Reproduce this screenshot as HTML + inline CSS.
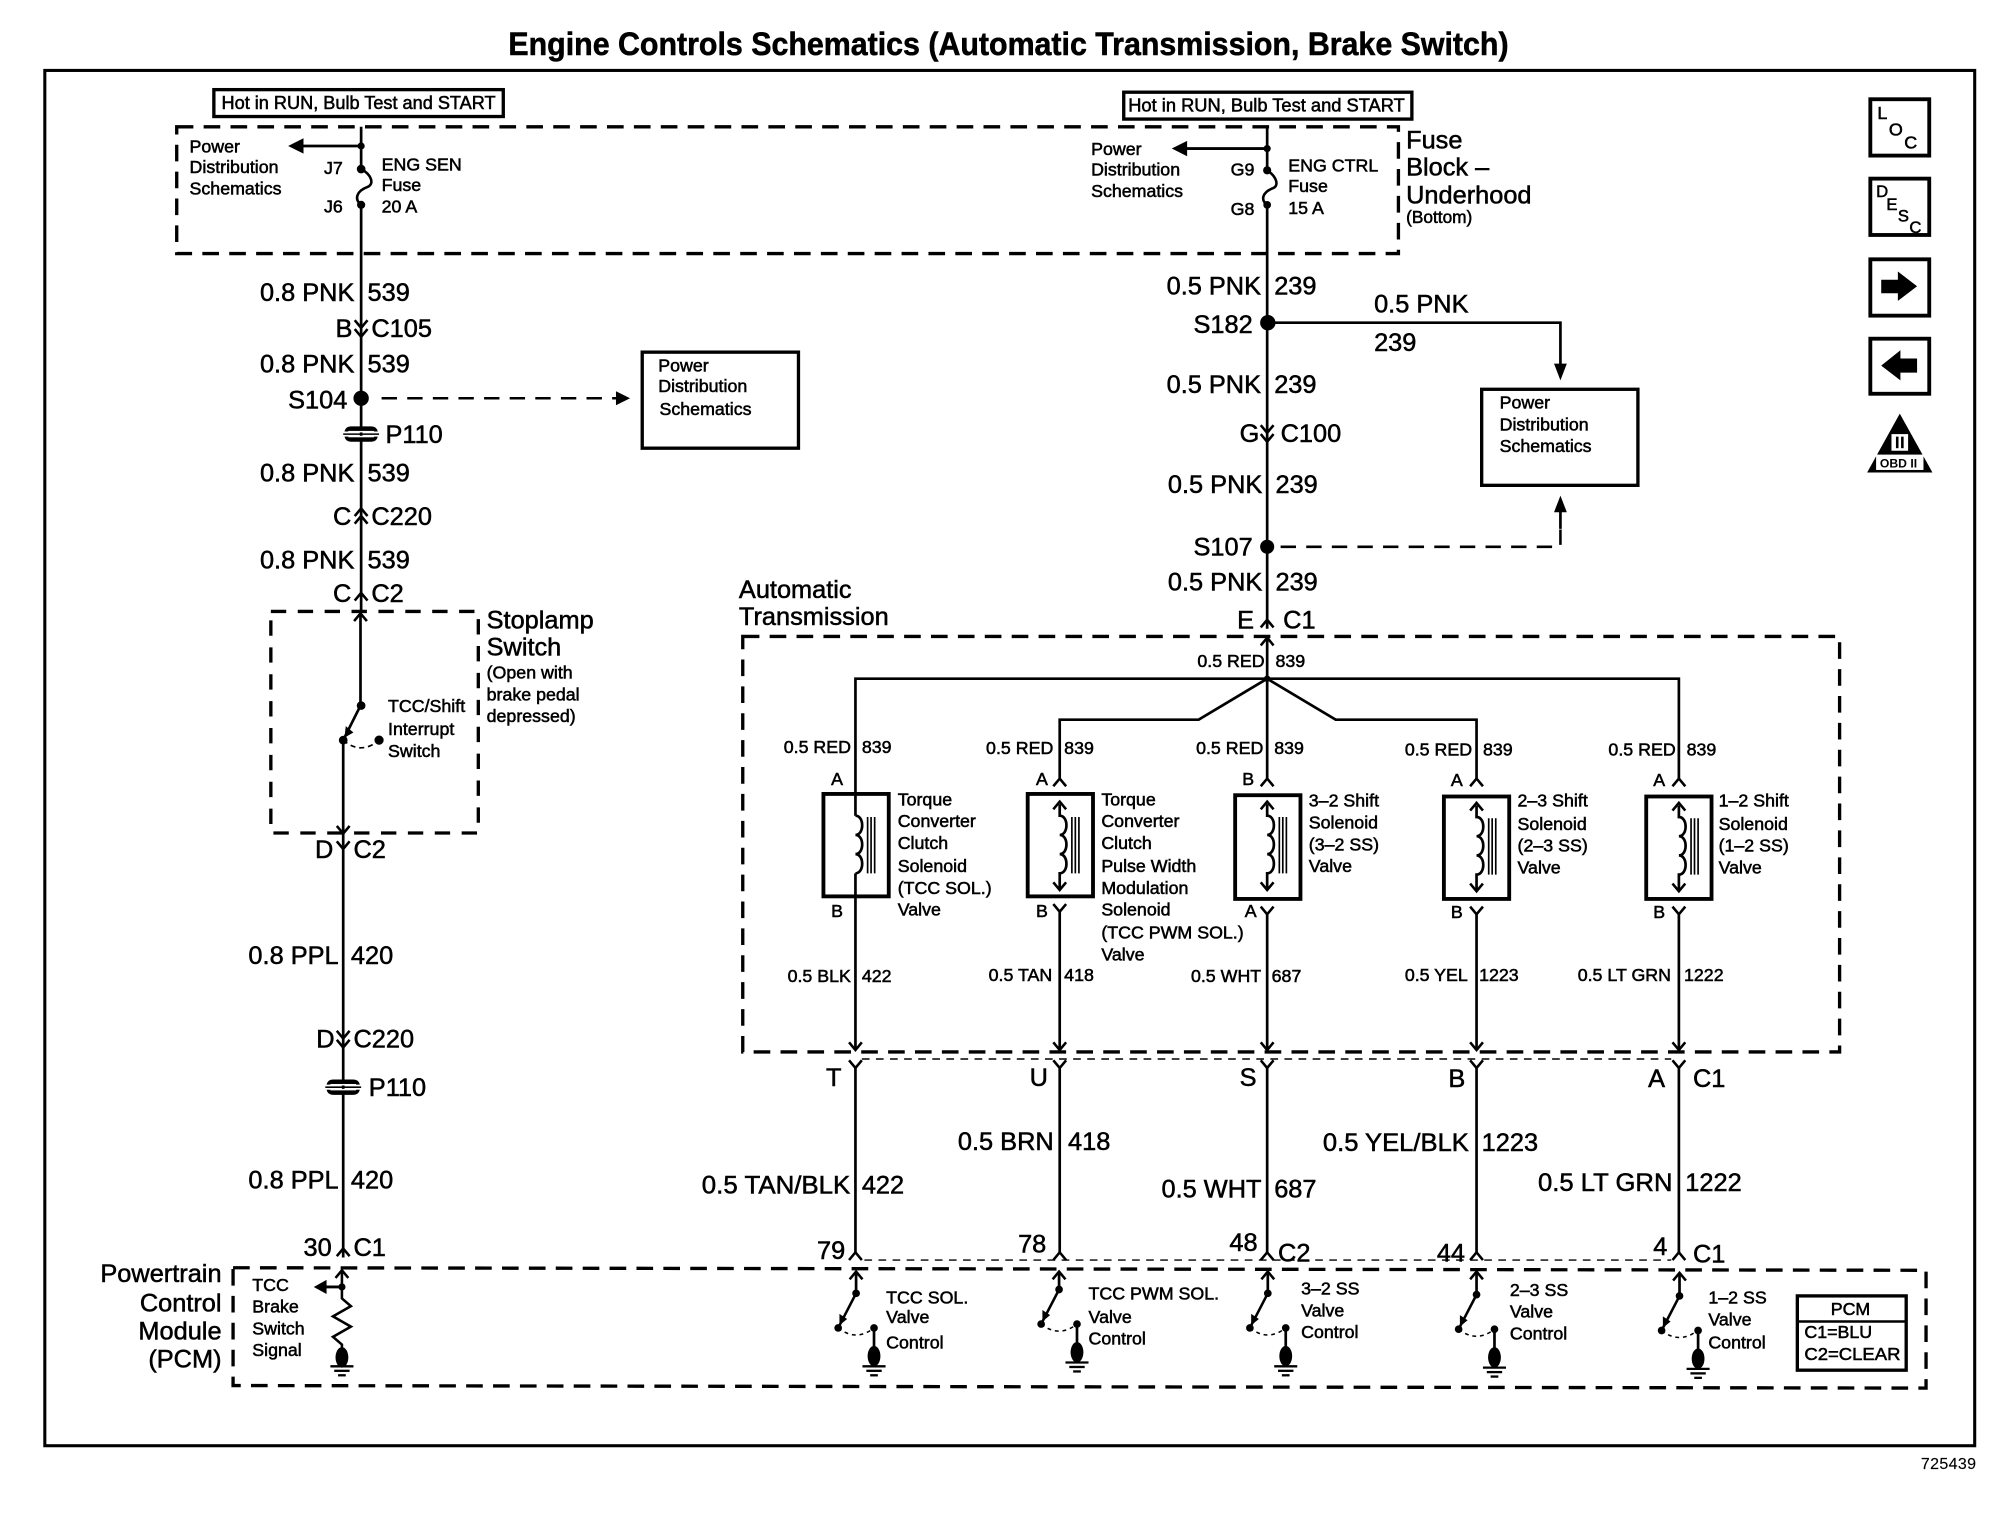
<!DOCTYPE html>
<html><head><meta charset="utf-8"><title>Engine Controls Schematics</title>
<style>
html,body{margin:0;padding:0;background:#fff}
svg{display:block;width:2008px;height:1520px}
text{font-family:"Liberation Sans",sans-serif;fill:#000;stroke:#000;stroke-width:.42}
.b{font-size:19.8px}.s{font-size:13.9px}
.w{fill:none;stroke:#000;stroke-width:2.1}
.d{fill:none;stroke:#000;stroke-width:2.6;stroke-dasharray:13 8}
.t{fill:none;stroke:#000;stroke-width:1.1;stroke-dasharray:6 5}
.r{fill:none;stroke:#000;stroke-width:2.6}
</style></head><body>
<svg xmlns="http://www.w3.org/2000/svg" viewBox="0 0 1568 1187" preserveAspectRatio="none">
<defs>
<path id="dn" d="M-5,-6 L0,0 L5,-6" fill="none" stroke="#000" stroke-width="2"/>
<path id="up" d="M-5,6 L0,0 L5,6" fill="none" stroke="#000" stroke-width="2"/>
<g id="p110"><path d="M-13,-2 Q-12,-6 -8,-6 H8 Q12,-6 13,-2 Z M-13,2 Q-12,6 -8,6 H8 Q12,6 13,2 Z" fill="#000"/><rect x="-10" y="-2.5" width="20" height="1.2" fill="#fff"/><rect x="-10" y="1.3" width="20" height="1.2" fill="#fff"/><path d="M-14,0H14" stroke="#000" stroke-width="1.2"/></g>
<g id="coil"><path d="M0,628 V637 c7,0 7,15 0,15 c7,0 7,15 0,15 c7,0 7,15 0,15 V694" class="w"/><path d="M9.5,638 V682 M12.2,638 V682 M15,638 V682" stroke="#000" stroke-width="1.3" fill="none"/><use href="#up" y="626"/><path d="M-5,689 L0,695 L5,689" fill="none" stroke="#000" stroke-width="2"/></g>
<g id="gnd"><path d="M0,0 V22" class="w"/><ellipse cx="0" cy="22" rx="5" ry="8" fill="#000"/><circle cx="0" cy="0" r="3"/><path d="M-9,30 H9" stroke="#000" stroke-width="1.8"/><path d="M-6,33.5 H6" stroke="#000" stroke-width="1.8"/><path d="M-3,37 H3" stroke="#000" stroke-width="1.8"/></g>
<g id="sw"><circle cx="0" cy="0" r="3"/><path d="M0,0 L-14,27" stroke="#000" stroke-width="2"/><path d="M-13,16 L-13,25 L-7,20 Z"/><circle cx="-14" cy="27" r="3"/><path d="M-14,27 Q0,38 14,27" fill="none" stroke="#000" stroke-width="1.2" stroke-dasharray="3 3"/></g>
</defs>
<rect width="1568" height="1187" fill="#fff"/>

<text x="397" y="43" font-size="25" font-weight="bold" textLength="781" lengthAdjust="spacingAndGlyphs">Engine Controls Schematics (Automatic Transmission, Brake Switch)</text>
<rect x="35" y="55" width="1507" height="1074" class="r" style="stroke-width:2.4"/>
<text x="1500" y="1147" font-size="12.5" style="stroke-width:.1" textLength="43">725439</text>

<rect x="167" y="70" width="226" height="21" class="r"/>
<text x="173" y="85" font-size="14.6" textLength="214" lengthAdjust="spacingAndGlyphs">Hot in RUN, Bulb Test and START</text>
<rect x="877.5" y="72" width="225" height="21" class="r"/>
<text x="881" y="87" font-size="14.6" textLength="216" lengthAdjust="spacingAndGlyphs">Hot in RUN, Bulb Test and START</text>

<path d="M138,99 H1092 V198 H138 Z" class="d"/>

<!-- left fuse -->
<path d="M282,99 V132 M282,160 V478" class="w"/>
<path d="M282,132 C291,137 292,144 287,146 C279,149 276,155 282,160" fill="none" stroke="#000" stroke-width="2"/>
<circle cx="282" cy="114" r="2.8"/><circle cx="282" cy="132" r="3.4"/><circle cx="282" cy="160" r="3.2"/>
<path d="M282,114 H236" stroke="#000" stroke-width="2.2"/><path d="M225,114 L237,108 V120 Z"/>
<text class="s" x="148" y="119">Power</text><text class="s" x="148" y="135">Distribution</text><text class="s" x="148" y="152">Schematics</text>
<text class="s" x="253" y="136">J7</text><text class="s" x="253" y="166">J6</text>
<text class="s" x="298" y="133">ENG SEN</text><text class="s" x="298" y="149">Fuse</text><text class="s" x="298" y="166">20 A</text>

<text class="b" x="203" y="235">0.8 PNK</text><text class="b" x="287" y="235">539</text>
<text class="b" x="262" y="263">B</text><text class="b" x="290" y="263">C105</text>
<use href="#dn" x="282" y="256"/><use href="#dn" x="282" y="263"/>
<text class="b" x="203" y="291">0.8 PNK</text><text class="b" x="287" y="291">539</text>
<text class="b" x="225" y="319">S104</text>
<circle cx="282" cy="311" r="6"/>
<path d="M298,311 H482" fill="none" stroke="#000" stroke-width="2" stroke-dasharray="12 8"/>
<path d="M492,311 L481,305.5 V316.5 Z"/>
<use href="#p110" x="282" y="339"/>
<text class="b" x="301" y="346">P110</text>
<rect x="501.5" y="275" width="122" height="75" class="r"/>
<text class="s" x="514" y="290">Power</text><text class="s" x="514" y="306">Distribution</text><text class="s" x="515" y="324">Schematics</text>
<text class="b" x="203" y="376">0.8 PNK</text><text class="b" x="287" y="376">539</text>
<text class="b" x="260" y="410">C</text><text class="b" x="290" y="410">C220</text>
<use href="#up" x="282" y="397"/><use href="#up" x="282" y="403"/>
<text class="b" x="203" y="444">0.8 PNK</text><text class="b" x="287" y="444">539</text>
<text class="b" x="260" y="470">C</text><text class="b" x="290" y="470">C2</text>
<use href="#up" x="282" y="463"/>

<!-- stoplamp -->
<path d="M211.5,477.5 H373.5 V650.5 H211.5 Z" class="d" style="stroke-dasharray:12 9"/>
<use href="#up" x="281.5" y="479"/>
<path d="M281.5,479 V551 L268,578 V660" class="w"/>
<circle cx="282" cy="551" r="3.4"/><circle cx="268" cy="578" r="3.4"/><circle cx="296" cy="578" r="3.6"/>
<path d="M268,578 Q282,590 296,578" fill="none" stroke="#000" stroke-width="1.3" stroke-dasharray="4 3"/>
<path d="M270,567 L269,576 L276,572 Z"/>
<use href="#dn" x="268" y="651"/>
<use href="#dn" x="268" y="663"/>
<text class="s" x="303" y="556">TCC/Shift</text><text class="s" x="303" y="574">Interrupt</text><text class="s" x="303" y="591">Switch</text>
<text class="b" x="380" y="491">Stoplamp</text><text class="b" x="380" y="512">Switch</text>
<text class="s" x="380" y="530">(Open with</text><text class="s" x="380" y="547">brake pedal</text><text class="s" x="380" y="564">depressed)</text>
<text class="b" x="246" y="670">D</text><text class="b" x="276" y="670">C2</text>

<path d="M268,660 V982" class="w"/>
<text class="b" x="194" y="753">0.8 PPL</text><text class="b" x="274" y="753">420</text>
<text class="b" x="247" y="818">D</text><text class="b" x="276" y="818">C220</text>
<use href="#dn" x="268" y="811"/><use href="#dn" x="268" y="818"/>
<use href="#p110" x="268" y="849"/>
<text class="b" x="288" y="856">P110</text>
<text class="b" x="194" y="928">0.8 PPL</text><text class="b" x="274" y="928">420</text>
<text class="b" x="237" y="981">30</text><text class="b" x="276" y="981">C1</text>
<use href="#up" x="268" y="975"/>

<!-- right main wire -->
<path d="M989.5,99 V133 M989.5,160 V491" class="w"/>
<path d="M989.5,133 C997,138 999,145 994,147 C986,150 984,156 989.5,160" fill="none" stroke="#000" stroke-width="2"/>
<circle cx="989.5" cy="116" r="2.8"/><circle cx="989.5" cy="133" r="3.2"/><circle cx="989.5" cy="160" r="3"/>
<path d="M989.5,116 H926" stroke="#000" stroke-width="2.2"/><path d="M915,116 L927,110 V122 Z"/>
<text class="s" x="852" y="121">Power</text><text class="s" x="852" y="137">Distribution</text><text class="s" x="852" y="154">Schematics</text>
<text class="s" x="961" y="137">G9</text><text class="s" x="961" y="168">G8</text>
<text class="s" x="1006" y="134">ENG CTRL</text><text class="s" x="1006" y="150">Fuse</text><text class="s" x="1006" y="167">15 A</text>
<text class="b" x="1098" y="116">Fuse</text><text class="b" x="1098" y="137">Block –</text><text class="b" x="1098" y="159">Underhood</text>
<text x="1098" y="174" font-size="13.5">(Bottom)</text>

<text class="b" x="911" y="230">0.5 PNK</text><text class="b" x="995" y="230">239</text>
<text class="b" x="932" y="260">S182</text>
<circle cx="990" cy="252" r="6"/>
<path d="M990,252 H1218.5 V286" class="w"/><path d="M1218.5,297 L1213.5,284 H1223.5 Z"/>
<text class="b" x="1073" y="244">0.5 PNK</text><text class="b" x="1073" y="274">239</text>
<rect x="1157" y="304" width="122" height="75" class="r"/>
<text class="s" x="1171" y="319">Power</text><text class="s" x="1171" y="336">Distribution</text><text class="s" x="1171" y="353">Schematics</text>
<text class="b" x="911" y="307">0.5 PNK</text><text class="b" x="995" y="307">239</text>
<text class="b" x="968" y="345">G</text><text class="b" x="1000" y="345">C100</text>
<use href="#dn" x="989.5" y="338"/><use href="#dn" x="989.5" y="345"/>
<text class="b" x="912" y="385">0.5 PNK</text><text class="b" x="996" y="385">239</text>
<text class="b" x="932" y="434">S107</text>
<circle cx="989.5" cy="427" r="5.5"/>
<path d="M1000,427 H1218.5 V412" fill="none" stroke="#000" stroke-width="2" stroke-dasharray="12 8"/>
<path d="M1218.5,413 V398" class="w"/><path d="M1218.5,387 L1213.5,400 H1223.5 Z"/>
<text class="b" x="912" y="461">0.5 PNK</text><text class="b" x="996" y="461">239</text>
<text class="b" x="966" y="491">E</text><text class="b" x="1002" y="491">C1</text>
<use href="#up" x="989.5" y="484"/>

<!-- transmission -->
<text class="b" x="577" y="467">Automatic</text><text class="b" x="577" y="488">Transmission</text>
<path d="M580,497 H1436.5 V821.5 H580 Z" class="d"/>
<path d="M989.5,498 V608" class="w"/>
<use href="#up" x="989.5" y="498"/>
<circle cx="989.5" cy="530" r="2.5"/>
<text class="s" x="935" y="521">0.5 RED</text><text class="s" x="996" y="521">839</text>
<path d="M668,637 V530 H1311 V608 M668,682 V820" class="w"/>
<path d="M989.5,530 L936,562 H827.5 V608 M989.5,530 L1043,562 H1153 V608" class="w"/>

<text class="s" x="612" y="588">0.5 RED</text><text class="s" x="673" y="588">839</text>
<text class="s" x="770" y="589">0.5 RED</text><text class="s" x="831" y="589">839</text>
<text class="s" x="934" y="589">0.5 RED</text><text class="s" x="995" y="589">839</text>
<text class="s" x="1097" y="590">0.5 RED</text><text class="s" x="1158" y="590">839</text>
<text class="s" x="1256" y="590">0.5 RED</text><text class="s" x="1317" y="590">839</text>

<!-- solenoids -->
<rect x="643" y="620" width="51" height="80" class="r" style="stroke-width:3"/>
<path d="M668,637 c7,0 7,15 0,15 c7,0 7,15 0,15 c7,0 7,15 0,15" class="w"/>
<path d="M677.5,638 V682 M680.2,638 V682 M683,638 V682" stroke="#000" stroke-width="1.3" fill="none"/>
<rect x="802.5" y="620" width="51" height="80" class="r" style="stroke-width:3"/>
<use href="#coil" x="827.5"/>
<rect x="964.5" y="621" width="51" height="81" class="r" style="stroke-width:3"/>
<use href="#coil" x="989.5"/>
<rect x="1127.5" y="622" width="51" height="80" class="r" style="stroke-width:3"/>
<use href="#coil" x="1153" y="1"/>
<rect x="1285.5" y="622" width="51" height="80" class="r" style="stroke-width:3"/>
<use href="#coil" x="1311" y="1"/>

<use href="#up" x="827.5" y="608"/><use href="#up" x="989.5" y="608"/><use href="#up" x="1153" y="608"/><use href="#up" x="1311" y="608"/>
<use href="#dn" x="827.5" y="712"/><use href="#dn" x="989.5" y="714"/><use href="#dn" x="1153" y="714"/><use href="#dn" x="1311" y="714"/>
<path d="M827.5,712 V820 M989.5,714 V820 M1153,714 V820 M1311,714 V820" class="w"/>

<text class="s" x="649" y="613">A</text><text class="s" x="809" y="613">A</text><text class="s" x="970" y="613">B</text><text class="s" x="1133" y="614">A</text><text class="s" x="1291" y="614">A</text>
<text class="s" x="649" y="716">B</text><text class="s" x="809" y="716">B</text><text class="s" x="972" y="716">A</text><text class="s" x="1133" y="717">B</text><text class="s" x="1291" y="717">B</text>

<g class="s">
<text x="701" y="629">Torque</text><text x="701" y="646">Converter</text><text x="701" y="663">Clutch</text><text x="701" y="681">Solenoid</text><text x="701" y="698">(TCC SOL.)</text><text x="701" y="715">Valve</text>
<text x="860" y="629">Torque</text><text x="860" y="646">Converter</text><text x="860" y="663">Clutch</text><text x="860" y="681">Pulse Width</text><text x="860" y="698">Modulation</text><text x="860" y="715">Solenoid</text><text x="860" y="733">(TCC PWM SOL.)</text><text x="860" y="750">Valve</text>
<text x="1022" y="630">3–2 Shift</text><text x="1022" y="647">Solenoid</text><text x="1022" y="664">(3–2 SS)</text><text x="1022" y="681">Valve</text>
<text x="1185" y="630">2–3 Shift</text><text x="1185" y="648">Solenoid</text><text x="1185" y="665">(2–3 SS)</text><text x="1185" y="682">Valve</text>
<text x="1342" y="630">1–2 Shift</text><text x="1342" y="648">Solenoid</text><text x="1342" y="665">(1–2 SS)</text><text x="1342" y="682">Valve</text>
</g>

<g class="s">
<text x="615" y="767">0.5 BLK</text><text x="673" y="767">422</text>
<text x="772" y="766">0.5 TAN</text><text x="831" y="766">418</text>
<text x="930" y="767">0.5 WHT</text><text x="993" y="767">687</text>
<text x="1097" y="766">0.5 YEL</text><text x="1155" y="766">1223</text>
<text x="1232" y="766">0.5 LT GRN</text><text x="1315" y="766">1222</text>
</g>

<use href="#dn" x="668" y="820"/><use href="#dn" x="827.5" y="820"/><use href="#dn" x="989.5" y="820"/><use href="#dn" x="1153" y="820"/><use href="#dn" x="1311" y="820"/>

<!-- between -->
<path d="M673,827 H1305" class="t"/>
<use href="#dn" x="668" y="834"/><use href="#dn" x="827.5" y="834"/><use href="#dn" x="989.5" y="834"/><use href="#dn" x="1153" y="834"/><use href="#dn" x="1311" y="834"/>
<path d="M668,834 V978 M827.5,834 V978 M989.5,834 V978 M1153,834 V978 M1311,834 V978" class="w"/>
<use href="#up" x="668" y="978"/><use href="#up" x="827.5" y="978"/><use href="#up" x="989.5" y="978"/><use href="#up" x="1153" y="978"/><use href="#up" x="1311" y="978"/>
<path d="M675,984 H1305" class="t"/>

<text class="b" x="645" y="848">T</text><text class="b" x="804" y="848">U</text><text class="b" x="968" y="848">S</text><text class="b" x="1131" y="849">B</text><text class="b" x="1287" y="849">A</text><text class="b" x="1322" y="849">C1</text>
<text class="b" x="748" y="898">0.5 BRN</text><text class="b" x="834" y="898">418</text>
<text class="b" x="548" y="932" textLength="116" lengthAdjust="spacingAndGlyphs">0.5 TAN/BLK</text><text class="b" x="673" y="932">422</text>
<text class="b" x="907" y="935">0.5 WHT</text><text class="b" x="995" y="935">687</text>
<text class="b" x="1033" y="899" textLength="114" lengthAdjust="spacingAndGlyphs">0.5 YEL/BLK</text><text class="b" x="1157" y="899">1223</text>
<text class="b" x="1201" y="930" textLength="105" lengthAdjust="spacingAndGlyphs">0.5 LT GRN</text><text class="b" x="1316" y="930">1222</text>
<text class="b" x="638" y="983">79</text><text class="b" x="795" y="978">78</text><text class="b" x="960" y="977">48</text><text class="b" x="998" y="985">C2</text><text class="b" x="1122" y="985">44</text><text class="b" x="1291" y="980">4</text><text class="b" x="1322" y="986">C1</text>

<!-- PCM -->
<path d="M182,990 L1504,992 V1084 L182,1082 Z" class="d"/>
<text class="b" x="173" y="1001" text-anchor="end">Powertrain</text><text class="b" x="173" y="1024" text-anchor="end">Control</text><text class="b" x="173" y="1046" text-anchor="end">Module</text><text class="b" x="173" y="1068" text-anchor="end">(PCM)</text>
<text class="s" x="197" y="1008">TCC</text><text class="s" x="197" y="1025">Brake</text><text class="s" x="197" y="1042">Switch</text><text class="s" x="197" y="1059">Signal</text>

<use href="#up" x="267" y="992"/>
<path d="M267,992 V1014 L274,1020 L260,1028 L274,1036 L260,1044 L267,1050 V1060" fill="none" stroke="#000" stroke-width="2"/>
<circle cx="267" cy="1005" r="2.8"/>
<path d="M267,1005 H254" stroke="#000" stroke-width="2.2"/><path d="M245,1005 L255,999.5 V1010.5 Z"/>
<ellipse cx="267" cy="1060" rx="5" ry="8"/>
<path d="M258,1067 H276" stroke="#000" stroke-width="1.8"/><path d="M261,1070.5 H273" stroke="#000" stroke-width="1.8"/><path d="M264,1074 H270" stroke="#000" stroke-width="1.8"/>

<use href="#up" x="668.5" y="993"/><path d="M668.5,993 V1010" class="w"/><use href="#sw" x="668.5" y="1010"/><use href="#gnd" x="682.5" y="1037"/>
<use href="#up" x="827" y="993"/><path d="M827,993 V1007" class="w"/><use href="#sw" x="827" y="1007"/><use href="#gnd" x="841" y="1034"/>
<use href="#up" x="990" y="993"/><path d="M990,993 V1010" class="w"/><use href="#sw" x="990" y="1010"/><use href="#gnd" x="1004" y="1037"/>
<use href="#up" x="1153" y="993"/><path d="M1153,993 V1011" class="w"/><use href="#sw" x="1153" y="1011"/><use href="#gnd" x="1167" y="1038"/>
<use href="#up" x="1311.5" y="994"/><path d="M1311.5,994 V1012" class="w"/><use href="#sw" x="1311.5" y="1012"/><use href="#gnd" x="1326" y="1039"/>

<g class="s">
<text x="692" y="1018">TCC SOL.</text><text x="692" y="1033">Valve</text><text x="692" y="1053">Control</text>
<text x="850" y="1015">TCC PWM SOL.</text><text x="850" y="1033">Valve</text><text x="850" y="1050">Control</text>
<text x="1016" y="1011">3–2 SS</text><text x="1016" y="1028">Valve</text><text x="1016" y="1045">Control</text>
<text x="1179" y="1012">2–3 SS</text><text x="1179" y="1029">Valve</text><text x="1179" y="1046">Control</text>
<text x="1334" y="1018">1–2 SS</text><text x="1334" y="1035">Valve</text><text x="1334" y="1053">Control</text>
</g>

<rect x="1403.5" y="1012" width="85" height="58" class="r"/>
<path d="M1403.5,1032 H1488.5" stroke="#000" stroke-width="2"/>
<text class="s" x="1445" y="1027" text-anchor="middle">PCM</text>
<text class="s" x="1409" y="1045">C1=BLU</text><text class="s" x="1409" y="1062" textLength="75" lengthAdjust="spacingAndGlyphs">C2=CLEAR</text>

<!-- icons -->
<rect x="1460.5" y="77.5" width="46" height="44" class="r" style="stroke-width:3"/>
<text x="1466" y="93" font-size="14">L</text><text x="1475" y="106" font-size="14">O</text><text x="1487" y="116" font-size="14">C</text>
<rect x="1460.5" y="139.5" width="46" height="44" class="r" style="stroke-width:3"/>
<text x="1465" y="154" font-size="13">D</text><text x="1473" y="164" font-size="13">E</text><text x="1482" y="173" font-size="13">S</text><text x="1491" y="182" font-size="13">C</text>
<rect x="1460.5" y="202.5" width="46" height="44" class="r" style="stroke-width:3"/>
<path d="M1469,218.5 H1482 V212 L1497,223.5 L1482,235 V229 H1469 Z"/>
<rect x="1460.5" y="264.5" width="46" height="43" class="r" style="stroke-width:3"/>
<path d="M1497,280 H1484 V273.5 L1469,285.5 L1484,297 V291 H1497 Z"/>
<path d="M1483.5,323 L1509,369 H1458 Z"/>
<rect x="1477" y="339" width="13" height="13" fill="#fff"/>
<rect x="1480.5" y="341" width="2" height="9"/><rect x="1484.5" y="341" width="2" height="9"/>
<rect x="1465" y="355" width="37" height="12" fill="#fff"/>
<text x="1468" y="365" font-size="9.5" font-weight="bold" style="stroke-width:0">OBD II</text>
</svg>
</body></html>
